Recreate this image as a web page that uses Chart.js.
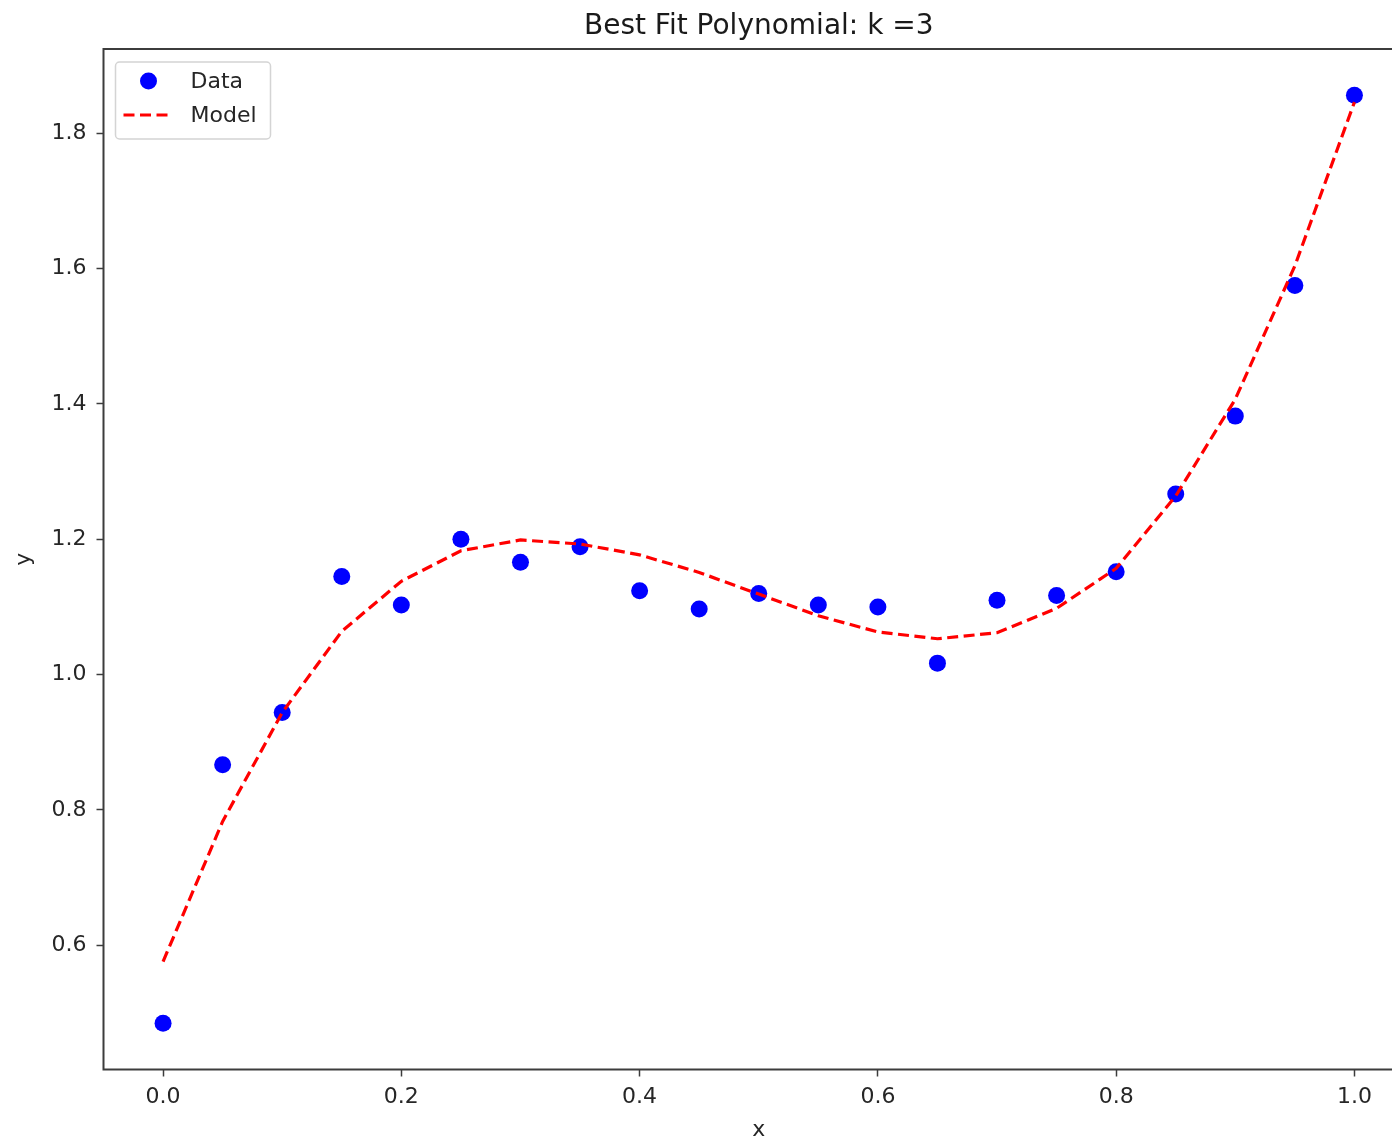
<!DOCTYPE html>
<html>
<head>
<meta charset="utf-8">
<title>Best Fit Polynomial</title>
<script src="https://cdn.jsdelivr.net/npm/chart.js@4.4.1/dist/chart.umd.min.js"></script>
<style>
  html, body { margin: 0; padding: 0; background: #fff; overflow: hidden; }
  #wrap { position: relative; width: 1414px; height: 1150px; }
</style>
</head>
<body>
<div id="wrap"><canvas id="fitChart"></canvas></div>
<script>
// ── data ──────────────────────────────────────────────
const X_VALUES = [0.00, 0.05, 0.10, 0.15, 0.20, 0.25, 0.30, 0.35, 0.40, 0.45, 0.50,
                  0.55, 0.60, 0.65, 0.70, 0.75, 0.80, 0.85, 0.90, 0.95, 1.00];
const DATA_Y   = [0.485, 0.867, 0.944, 1.145, 1.103, 1.200, 1.166, 1.189, 1.124, 1.097, 1.120,
                  1.103, 1.100, 1.017, 1.110, 1.117, 1.152, 1.267, 1.382, 1.575, 1.856];
const MODEL_Y  = [0.576, 0.783, 0.944, 1.064, 1.138, 1.183, 1.199, 1.193, 1.177, 1.151, 1.119,
                  1.087, 1.063, 1.053, 1.062, 1.098, 1.157, 1.264, 1.407, 1.604, 1.846];
const X_TICKS  = [0.0, 0.2, 0.4, 0.6, 0.8, 1.0];
const Y_TICKS  = [0.6, 0.8, 1.0, 1.2, 1.4, 1.6, 1.8];

const FONT      = '"DejaVu Sans", "Liberation Sans", sans-serif';
const TEXT      = '#262626';
const SPINE     = '#3c3c3c';

const pts = ys => X_VALUES.map((x, i) => ({ x, y: ys[i] }));

// ── axes frame (all four spines) ─────────────────────
const frame = {
  id: 'frame',
  afterDatasetsDraw(chart) {
    const { ctx, chartArea: a } = chart;
    ctx.save();
    ctx.strokeStyle = SPINE;
    ctx.lineWidth = 2;
    ctx.strokeRect(a.left, a.top, a.right - a.left, a.bottom - a.top);
    ctx.restore();
  }
};

// ── boxed legend in the upper-left corner ───────────────
const legendBox = {
  id: 'legendBox',
  afterDraw(chart) {
    const { ctx, chartArea: a } = chart;
    const x = a.left + 12, y = a.top + 13, w = 155, h = 77;
    ctx.save();
    ctx.fillStyle = 'rgba(255,255,255,0.8)';
    ctx.strokeStyle = '#d4d4d4';
    ctx.lineWidth = 1.5;
    ctx.beginPath();
    ctx.roundRect(x, y, w, h, 4);
    ctx.fill();
    ctx.stroke();

    ctx.font = '22px ' + FONT;
    ctx.textBaseline = 'middle';
    chart.data.datasets.forEach((ds, i) => {
      const cy = y + 19 + i * 34;
      if (ds.showLine === false) {
        ctx.fillStyle = ds.pointBackgroundColor;
        ctx.beginPath();
        ctx.arc(x + 33, cy, ds.pointRadius, 0, Math.PI * 2);
        ctx.fill();
      } else {
        ctx.strokeStyle = ds.borderColor;
        ctx.lineWidth = ds.borderWidth;
        ctx.setLineDash(ds.borderDash);
        ctx.beginPath();
        ctx.moveTo(x + 8, cy);
        ctx.lineTo(x + 57, cy);
        ctx.stroke();
        ctx.setLineDash([]);
      }
      ctx.fillStyle = TEXT;
      ctx.fillText(ds.label, x + 75, cy + 1);
    });
    ctx.restore();
  }
};

new Chart(document.getElementById('fitChart'), {
  type: 'scatter',
  data: {
    datasets: [
      { label: 'Data',  data: pts(DATA_Y), showLine: false, order: 2,
        pointRadius: 8.5, pointHoverRadius: 8.5, pointBorderWidth: 0,
        pointBackgroundColor: '#0000ff', backgroundColor: '#0000ff', borderColor: '#0000ff' },
      { label: 'Model', data: pts(MODEL_Y), showLine: true, order: 1,
        borderColor: '#ff0000', borderWidth: 3.2, borderDash: [11, 5.5], tension: 0,
        pointRadius: 0, pointHoverRadius: 0, fill: false },
    ]
  },
  options: {
    responsive: true, maintainAspectRatio: false, animation: false,
    layout: { padding: 0, autoPadding: false },
    plugins: {
      legend: { display: false },
      tooltip: { enabled: false },
      title: {
        display: true, text: 'Best Fit Polynomial: k =3', fullSize: false,
        color: '#1a1a1a', font: { family: FONT, size: 28, weight: 'normal', lineHeight: 1.2 },
        padding: { top: 9.5, bottom: 5.9 }
      }
    },
    scales: {
      x: {
        type: 'linear', min: -0.05, max: 1.05,
        afterBuildTicks: s => { s.ticks = X_TICKS.map(v => ({ value: v })); },
        afterFit: s => { s.height = 80.5; },
        border: { display: false },
        grid: { drawOnChartArea: false, drawTicks: true, tickLength: 7, tickColor: SPINE, tickWidth: 1.5 },
        ticks: { color: TEXT, padding: 8, maxRotation: 0, font: { family: FONT, size: 22 },
                 callback: v => Number(v).toFixed(1) },
        title: { display: true, text: 'x', color: TEXT, font: { family: FONT, size: 22 },
                 padding: { top: 0, bottom: 6.8 } }
      },
      y: {
        type: 'linear', min: 0.4165, max: 1.9245,
        afterBuildTicks: s => { s.ticks = Y_TICKS.map(v => ({ value: v })); },
        afterFit: s => { s.width = 103.5; },
        border: { display: false },
        grid: { drawOnChartArea: false, drawTicks: true, tickLength: 7, tickColor: SPINE, tickWidth: 1.5 },
        ticks: { color: TEXT, padding: 10, font: { family: FONT, size: 22 },
                 callback: v => Number(v).toFixed(1) },
        title: { display: true, text: 'y', color: TEXT, font: { family: FONT, size: 22 },
                 padding: { top: 11, bottom: 0 } }
      }
    }
  },
  plugins: [frame, legendBox]
});
</script>
</body>
</html>
